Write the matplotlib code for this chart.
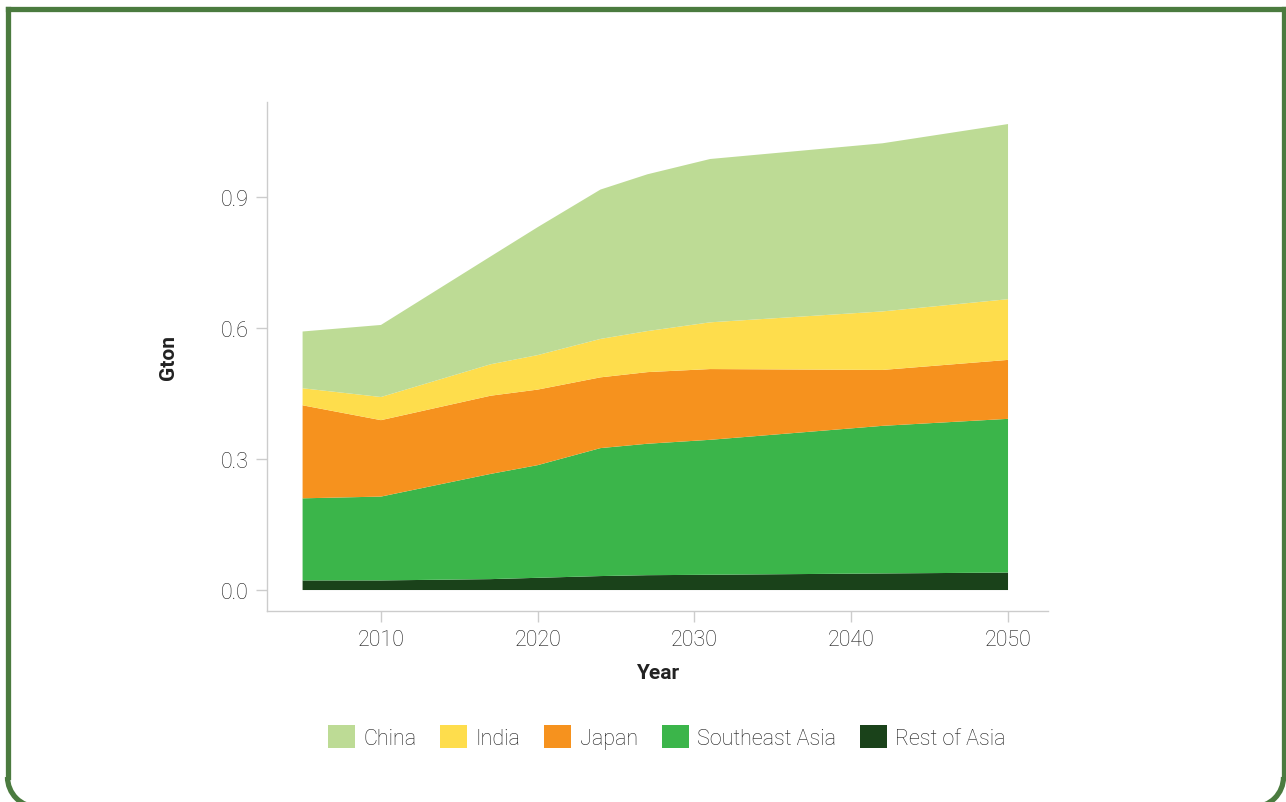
import numpy as np
import matplotlib
matplotlib.use("Agg")
import matplotlib.pyplot as plt
from matplotlib.patches import Arc, Patch

plt.rcParams['font.family'] = ['Roboto', 'DejaVu Sans']

# -----------------------
# Data (Gton)
# -----------------------

years = [2005, 2010, 2017, 2020, 2024, 2027, 2031, 2042, 2050]

rest_of_asia = [0.022, 0.022, 0.025, 0.028, 0.032, 0.034, 0.035, 0.038, 0.040]
southeast_asia = [0.188, 0.192, 0.241, 0.258, 0.293, 0.301, 0.309, 0.338, 0.352]
japan = [0.213, 0.175, 0.179, 0.173, 0.162, 0.164, 0.162, 0.128, 0.135]
india = [0.039, 0.053, 0.072, 0.079, 0.088, 0.094, 0.107, 0.134, 0.139]
china = [0.130, 0.165, 0.247, 0.293, 0.342, 0.359, 0.374, 0.385, 0.401]

labels = ["China", "India", "Japan", "Southeast Asia", "Rest of Asia"]
colors = ["#bddb95", "#fedd4c", "#f6921e", "#3bb54a", "#1a421a"]

x_ticks = [2010, 2020, 2030, 2040, 2050]
y_ticks = [0.0, 0.3, 0.6, 0.9]

W, H = 1286, 803
fig = plt.figure(figsize=(W/100, H/100), dpi=100)

# -----------------------
# Frame (square top, rounded bottom running off the image)
# -----------------------

bg = fig.add_axes([0, 0, 1, 1], zorder=-1)
bg.set_xlim(0, W)
bg.set_ylim(H, 0)
bg.axis("off")
x0, y0, x1, y1, r = 7.5, 9.5, 1283.5, 808, 30
fc = "#4b7b3f"
lw = 3.8
bg.plot([x0, x1], [y0, y0], color=fc, lw=lw, solid_capstyle="projecting")
bg.plot([x0, x0], [y0, y1-r], color=fc, lw=lw, solid_capstyle="projecting")
bg.plot([x1, x1], [y0, y1-r], color=fc, lw=lw, solid_capstyle="projecting")
bg.plot([x0+r, x1-r], [y1, y1], color=fc, lw=lw)
bg.add_patch(Arc((x0+r, y1-r), 2*r, 2*r, theta1=90, theta2=180, color=fc, lw=lw))
bg.add_patch(Arc((x1-r, y1-r), 2*r, 2*r, theta1=0, theta2=90, color=fc, lw=lw))

# -----------------------
# Stacked area
# -----------------------

ax = fig.add_axes([267/W, 1-612/H, (1048-267)/W, (612-103)/H])

ax.stackplot(
    years,
    rest_of_asia, southeast_asia, japan, india, china,
    colors=colors[::-1],
    linewidth=0
)

ax.set_xlim(2002.73, 2052.55)
ax.set_ylim(-0.048, 1.1175)

ax.set_xticks(x_ticks)
ax.set_yticks(y_ticks)
ax.set_yticklabels([f"{v:.1f}" for v in y_ticks])

for s in ["top", "right"]:
    ax.spines[s].set_visible(False)
for s in ["left", "bottom"]:
    ax.spines[s].set_color("#cccccc")
    ax.spines[s].set_linewidth(1)

ax.tick_params(length=8, width=1, color="#cccccc", labelcolor="#1a1a1a",
               labelsize=15.5, pad=5)
for t in ax.get_xticklabels() + ax.get_yticklabels():
    t.set_fontweight("light")

ax.set_xlabel("Year", fontsize=15, fontweight="bold", color="#222222", labelpad=9)
ax.set_ylabel("Gton", fontsize=15, fontweight="bold", color="#222222", labelpad=31)

handles = [Patch(facecolor=c, edgecolor="none") for c in colors]
leg = fig.legend(
    handles, labels,
    loc="center", bbox_to_anchor=(667/W, 1-738/H),
    ncol=5, frameon=False,
    fontsize=15.5,
    handlelength=1.25, handleheight=1.25,
    handletextpad=0.4, columnspacing=1.1
)
for t in leg.get_texts():
    t.set_fontweight("light")
    t.set_color("#1a1a1a")

plt.savefig("out.png", dpi=100)
plt.close()
